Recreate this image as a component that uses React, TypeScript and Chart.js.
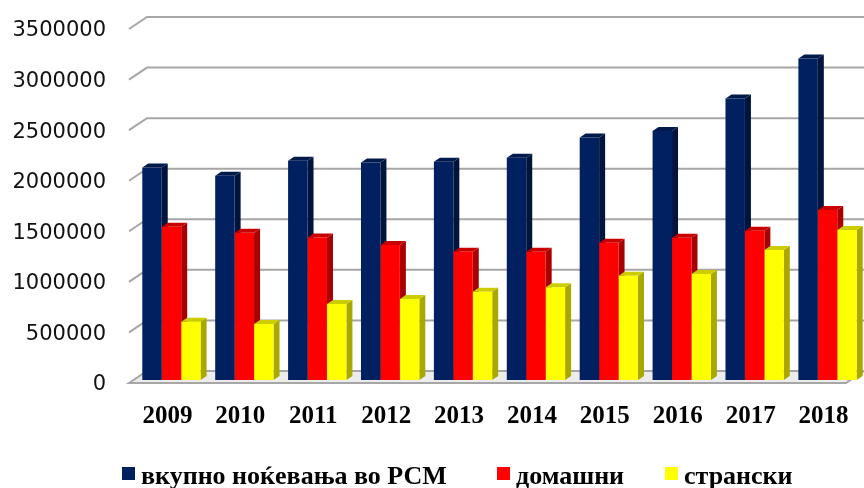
import React, { useEffect, useRef } from "react";
import { Chart, registerables } from "chart.js";

Chart.register(...registerables);

const years = ["2009", "2010", "2011", "2012", "2013", "2014", "2015", "2016", "2017", "2018"];
const totalNights = [2100000, 2019000, 2167000, 2150000, 2157000, 2197000, 2398000, 2463000, 2784000, 3179000];
const domesticNights = [1515000, 1456000, 1410000, 1334000, 1268000, 1268000, 1357000, 1406000, 1475000, 1680000];
const foreignNights = [576000, 553000, 751000, 800000, 873000, 916000, 1031000, 1047000, 1285000, 1482000];
const seriesLabels = ["вкупно ноќевања во РСМ", "домашни", "странски"];
const yTicks = [0, 500000, 1000000, 1500000, 2000000, 2500000, 3000000, 3500000];

const FRONT = ["#002060", "#ff0000", "#ffff00"];
const SIDE = ["#00143c", "#a80000", "#a8a800"];
const TOP = ["#001a4c", "#c80000", "#cccc00"];
const LEGEND_X = [122, 497, 665];

const DX = 6;
const DY = 4;

const threeD = {
  id: "threeD",
  beforeDatasetsDraw(chart: any) {
    const ctx = chart.ctx;
    const ys = chart.scales.y;
    const { left, right } = chart.chartArea;
    ctx.save();
    const y0 = ys.getPixelForValue(0);
    ctx.beginPath();
    ctx.moveTo(left - 6, y0 + 3);
    ctx.lineTo(left + 12, y0 - 9);
    ctx.lineTo(right, y0 - 9);
    ctx.lineTo(right - 18, y0 + 3);
    ctx.closePath();
    ctx.fillStyle = "#ececec";
    ctx.fill();
    ctx.strokeStyle = "#a6a6a6";
    ctx.lineWidth = 2;
    ctx.stroke();
    for (const v of yTicks) {
      if (v === 0) continue;
      const py = ys.getPixelForValue(v);
      ctx.beginPath();
      ctx.moveTo(left - 6, py + 3);
      ctx.lineTo(left + 12, py - 9);
      ctx.lineTo(right, py - 9);
      ctx.strokeStyle = "#a6a6a6";
      ctx.lineWidth = 2;
      ctx.stroke();
    }
    chart.data.datasets.forEach((ds: any, di: number) => {
      const meta = chart.getDatasetMeta(di);
      meta.data.forEach((el: any) => {
        const p = el.getProps(["x", "y", "base", "width"], true);
        const l = p.x - p.width / 2;
        const r = p.x + p.width / 2;
        ctx.beginPath();
        ctx.moveTo(r, p.y);
        ctx.lineTo(r + DX, p.y - DY);
        ctx.lineTo(r + DX, p.base - DY);
        ctx.lineTo(r, p.base);
        ctx.closePath();
        ctx.fillStyle = SIDE[di];
        ctx.fill();
        ctx.beginPath();
        ctx.moveTo(l, p.y);
        ctx.lineTo(l + DX, p.y - DY);
        ctx.lineTo(r + DX, p.y - DY);
        ctx.lineTo(r, p.y);
        ctx.closePath();
        ctx.fillStyle = TOP[di];
        ctx.fill();
      });
    });
    ctx.restore();
  },
  afterDraw(chart: any) {
    const ctx = chart.ctx;
    ctx.save();
    ctx.font = "bold 26px 'Liberation Serif'";
    ctx.textBaseline = "alphabetic";
    ctx.textAlign = "left";
    seriesLabels.forEach((lab, i) => {
      const x = LEGEND_X[i];
      ctx.fillStyle = FRONT[i];
      ctx.fillRect(x, 467, 13, 13);
      ctx.fillStyle = "#000";
      ctx.fillText(lab, x + 19, 484);
    });
    ctx.restore();
  },
};

export default function App() {
  const ref = useRef<HTMLCanvasElement>(null);
  useEffect(() => {
    const chart = new Chart(ref.current!, {
      type: "bar",
      data: {
        labels: years,
        datasets: [
          { label: seriesLabels[0], data: totalNights, backgroundColor: FRONT[0] },
          { label: seriesLabels[1], data: domesticNights, backgroundColor: FRONT[1] },
          { label: seriesLabels[2], data: foreignNights, backgroundColor: FRONT[2] },
        ],
      },
      options: {
        responsive: false,
        animation: false,
        layout: { padding: { top: 26, left: 0, right: 0, bottom: 0 } },
        datasets: { bar: { categoryPercentage: 0.8, barPercentage: 1.0, borderWidth: 0 } },
        plugins: { legend: { display: false }, tooltip: { enabled: false } },
        scales: {
          x: {
            grid: { display: false },
            border: { display: false },
            ticks: {
              font: { family: "'Liberation Serif'", size: 25, weight: "bold" },
              color: "#000",
              padding: 14,
              labelOffset: -4,
              maxRotation: 0,
              autoSkip: false,
            },
            afterFit: (s: any) => {
              s.height = 108;
              s.paddingLeft = 0;
              s.paddingRight = 0;
            },
          },
          y: {
            min: 0,
            max: 3500000,
            grid: { display: false, drawTicks: false },
            border: { display: false },
            ticks: {
              stepSize: 500000,
              font: { family: "'DejaVu Sans'", size: 21 },
              color: "#111",
              padding: 29,
              labelOffset: 5,
              callback: (v: any) => String(v),
            },
            afterFit: (s: any) => {
              s.width = 135;
              s.paddingTop = 0;
              s.paddingBottom = 0;
            },
          },
        },
      },
      plugins: [threeD],
    });
    return () => chart.destroy();
  }, []);
  return (
    <div style={{ position: "absolute", left: 0, top: 0, width: 864, height: 488, background: "#fff" }}>
      <canvas ref={ref} width={864} height={488} style={{ display: "block" }} />
    </div>
  );
}
